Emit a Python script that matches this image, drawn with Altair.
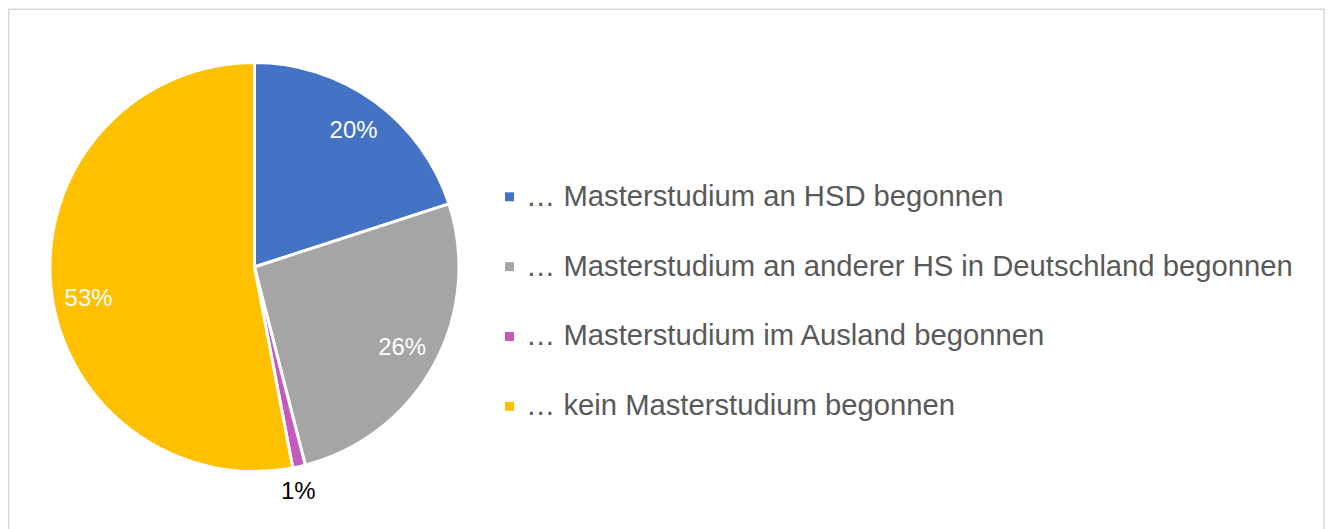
import altair as alt
import pandas as pd

categories = [
    "… Masterstudium an HSD begonnen",
    "… Masterstudium an anderer HS in Deutschland begonnen",
    "… Masterstudium im Ausland begonnen",
    "… kein Masterstudium begonnen",
]
values = [20, 26, 1, 53]
colors = ["#4472C4", "#A5A5A5", "#C55ABE", "#FFC000"]

df = pd.DataFrame({"cat": categories, "val": values, "ord": list(range(len(values)))})

CX, CY, R = 247, 259, 205
FONT = "Liberation Sans"

base = alt.Chart(df).encode(
    theta=alt.Theta("val:Q", stack=True),
    order=alt.Order("ord:Q"),
)

color = alt.Color(
    "cat:N",
    scale=alt.Scale(domain=categories, range=colors),
    sort=categories,
    legend=alt.Legend(
        title=None,
        orient="none",
        legendX=488,
        legendY=174,
        symbolType="square",
        symbolSize=81,
        symbolStrokeWidth=0,
        labelFontSize=29.3,
        labelFont=FONT,
        labelColor="#595959",
        labelLimit=1000,
        labelOffset=2,
        rowPadding=40,
    ),
)

pie = base.mark_arc(stroke="white", strokeWidth=3, outerRadius=R).encode(
    color=color,
    x=alt.value(CX),
    y=alt.value(CY),
)

def label_layer(cond, radius, col, dx=0, dy=0):
    return base.transform_calculate(
        lab=f"({cond}) ? datum.val + '%' : ''"
    ).mark_text(radius=radius, fontSize=24, font=FONT, color=col, dx=dx, dy=dy).encode(
        text="lab:N", x=alt.value(CX), y=alt.value(CY)
    )

lab_a = label_layer("datum.ord <= 1", 169, "white")
lab_b = label_layer("datum.ord == 3", 169, "white", dx=2, dy=16)
lab_c = label_layer("datum.ord == 2", 229, "black", dx=-6, dy=2)

border = alt.Chart(pd.DataFrame({"a": [0]})).mark_rect(
    fill="transparent", stroke="#D9D9D9", strokeWidth=1.5
).encode(x=alt.value(0.75), x2=alt.value(1319), y=alt.value(0.75), y2=alt.value(560))

chart = alt.layer(border, pie, lab_a, lab_b, lab_c).properties(
    width=1320, height=521, padding=0, autosize=alt.AutoSizeParams(type="none")
).configure_view(stroke=None)

chart.save("out.html", embed_options={"renderer": "svg", "actions": False})
